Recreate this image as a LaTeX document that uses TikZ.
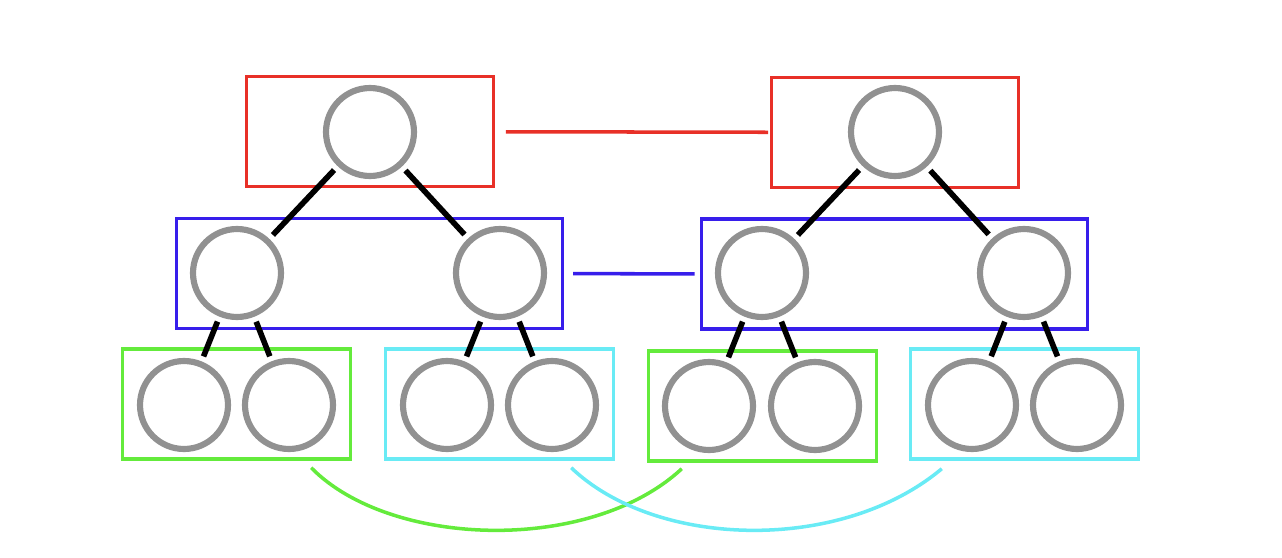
\documentclass[tikz,border=0pt]{standalone}
\usepackage{tikz}
\definecolor{grpred}{RGB}{232,48,40}
\definecolor{grpblue}{RGB}{55,30,235}
\definecolor{grpgreen}{RGB}{100,235,60}
\definecolor{grpcyan}{RGB}{105,235,245}
\definecolor{vtxgray}{RGB}{145,145,145}

\begin{document}
\begin{tikzpicture}[x=0.02cm, y=-0.02cm,
  vtx/.style={circle, draw=vtxgray, line width=3.5pt, minimum size=1.76cm, inner sep=0pt},
  grp/.style={draw, line width=2pt, minimum height=2.2cm},
  edge/.style={line width=3.2pt, shorten <=3pt, shorten >=3pt},
  link/.style={line width=2pt}]
  \useasboundingbox (0,0) rectangle (1282,558);
  % groups
  \node[grp, draw=grpred, minimum width=4.94cm] (lred) at (370,131.5) {};
  \node[grp, draw=grpred, minimum width=4.94cm] (rred) at (895,132.5) {};
  \node[grp, draw=grpblue, minimum width=7.72cm] (lblue) at (369.5,273.5) {};
  \node[grp, draw=grpblue, minimum width=7.72cm] (rblue) at (894.5,274) {};
  \node[grp, draw=grpgreen, minimum width=4.56cm] (lgreen) at (236.5,404) {};
  \node[grp, draw=grpcyan, minimum width=4.56cm] (lcyan) at (499.5,404) {};
  \node[grp, draw=grpgreen, minimum width=4.56cm] (rgreen) at (762.5,406) {};
  \node[grp, draw=grpcyan, minimum width=4.56cm] (rcyan) at (1024.5,404) {};
  % left tree
  \node[vtx] (la) at (370,132) {};
  \node[vtx] (lb1) at (237,273) {};
  \node[vtx] (lb2) at (500,273) {};
  \node[vtx] (lc1) at (184,405) {};
  \node[vtx] (lc2) at (289,405) {};
  \node[vtx] (lc3) at (447,405) {};
  \node[vtx] (lc4) at (552,405) {};
  % right tree
  \node[vtx] (ra) at (895,132) {};
  \node[vtx] (rb1) at (762,273) {};
  \node[vtx] (rb2) at (1024,273) {};
  \node[vtx] (rc1) at (709,406) {};
  \node[vtx] (rc2) at (815,406) {};
  \node[vtx] (rc3) at (972,405) {};
  \node[vtx] (rc4) at (1077,405) {};
  \draw[edge] (la) -- (lb1);
  \draw[edge] (la) -- (lb2);
  \draw[edge] (lb1) -- (lc1);
  \draw[edge] (lb1) -- (lc2);
  \draw[edge] (lb2) -- (lc3);
  \draw[edge] (lb2) -- (lc4);
  \draw[edge] (ra) -- (rb1);
  \draw[edge] (ra) -- (rb2);
  \draw[edge] (rb1) -- (rc1);
  \draw[edge] (rb1) -- (rc2);
  \draw[edge] (rb2) -- (rc3);
  \draw[edge] (rb2) -- (rc4);
  % links between the trees
  \draw[link, draw=grpred, shorten <=6pt, shorten >=1pt] (lred) -- (rred);
  \draw[link, draw=grpblue, shorten <=5pt, shorten >=3pt] (lblue) -- (rblue);
  \draw[link, draw=grpgreen] ([shift={(-41,7)}]lgreen.south east)
    .. controls (390,548) and (590,554) .. ([shift={(35,6)}]rgreen.south west);
  \draw[link, draw=grpcyan] ([shift={(-44,7)}]lcyan.south east)
    .. controls (655,548) and (840,554) .. ([shift={(33,8)}]rcyan.south west);
\end{tikzpicture}
\end{document}
